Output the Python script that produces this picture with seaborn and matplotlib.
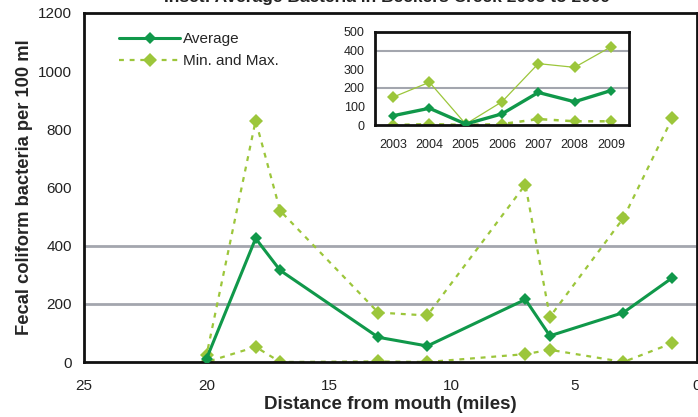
import matplotlib
matplotlib.use("Agg")
import matplotlib.pyplot as plt
from matplotlib.lines import Line2D
import seaborn as sns
import pandas as pd

# Main chart: sampling stations along the creek
distance_miles = [20, 18, 17, 13, 11, 7, 6, 3, 1]
avg_bacteria = [12, 425, 315, 85, 55, 215, 90, 170, 290]
max_bacteria = [25, 830, 520, 170, 160, 610, 155, 495, 840]
min_bacteria = [0, 52, 0, 2, 0, 27, 42, 0, 65]

# Inset: yearly averages
years = ["2003", "2004", "2005", "2006", "2007", "2008", "2009"]
year_avg = [50, 90, 5, 60, 175, 125, 185]
year_max = [150, 230, 5, 125, 330, 310, 420]
year_min = [0, 5, 0, 5, 32, 20, 20]

title_text = "Inset: Average Bacteria in Beckers Creek 2003 to 2009"
x_label = "Distance from mouth (miles)"
y_label = "Fecal coliform bacteria per 100 ml"

DARK = "#10984a"
LIGHT = "#9cc63b"
GRID = "#a3a6ae"

sns.set_style("white")
plt.rcParams["font.family"] = ["Liberation Sans", "DejaVu Sans"]

fig = plt.figure(figsize=(6.98, 4.17), dpi=100)
ax = fig.add_axes([84 / 698, 55 / 417, 613 / 698, 349 / 417])

main = pd.DataFrame({"dist": distance_miles, "avg": avg_bacteria,
                     "max": max_bacteria, "min": min_bacteria})

for lvl in (200, 400):
    ax.axhline(lvl, color=GRID, lw=2, zorder=0.5)

dash = (0, (2.2, 2.6))
for col in ("max", "min"):
    sns.lineplot(data=main, x="dist", y=col, ax=ax, color=LIGHT, lw=1.6,
                 linestyle=dash, marker="D", markersize=7, markeredgewidth=0,
                 zorder=2)
sns.lineplot(data=main, x="dist", y="avg", ax=ax, color=DARK, lw=2.2,
             marker="D", markersize=6.5, markeredgewidth=0, zorder=3)

ax.set_xlim(25, 0)
ax.set_ylim(0, 1200)
ax.set_xticks([25, 20, 15, 10, 5, 0])
ax.set_yticks(range(0, 1201, 200))
ax.tick_params(axis="both", labelsize=11, colors="#222222", direction="out",
               length=5, width=1)
ax.tick_params(axis="y", color=GRID)
ax.tick_params(axis="x", color="#666666", pad=7)
for s in ax.spines.values():
    s.set_color("#111111")
    s.set_linewidth(2)
ax.set_xlabel(x_label, fontsize=13.5, fontweight="bold", labelpad=2.5)
ax.set_ylabel(y_label, fontsize=13.2, fontweight="bold", labelpad=4)

handles = [
    Line2D([], [], color=DARK, lw=2.2, marker="D", markersize=6.5,
           markeredgewidth=0),
    Line2D([], [], color=LIGHT, lw=1.6, linestyle=dash, marker="D",
           markersize=7, markeredgewidth=0),
]
ax.legend(handles, ["Average", "Min. and Max."], loc="upper left",
          frameon=False, fontsize=11, handlelength=4.0, handletextpad=0.2,
          labelspacing=0.55, bbox_to_anchor=(0.035, 0.985))

# Inset with yearly values
ins = fig.add_axes([375 / 698, 292 / 417, 254 / 698, 93 / 417])
yr = pd.DataFrame({"pos": range(len(years)), "avg": year_avg,
                   "max": year_max, "min": year_min})
for lvl in (200, 400):
    ins.axhline(lvl, color=GRID, lw=1.5, zorder=0.5)
sns.lineplot(data=yr, x="pos", y="max", ax=ins, color=LIGHT, lw=0.9,
             marker="D", markersize=6, markeredgewidth=0, zorder=2)
sns.lineplot(data=yr, x="pos", y="min", ax=ins, color=LIGHT, lw=1.8,
             linestyle=(0, (2.0, 2.6)), marker="D", markersize=6,
             markeredgewidth=0, zorder=2)
sns.lineplot(data=yr, x="pos", y="avg", ax=ins, color=DARK, lw=2.4,
             marker="D", markersize=5.5, markeredgewidth=0, zorder=3)
ins.set_xlim(-0.5, len(years) - 0.5)
ins.set_ylim(0, 500)
ins.set_yticks(range(0, 501, 100))
ins.set_xticks(range(len(years)))
ins.set_xticklabels(years)
ins.set_xticks([i - 0.5 for i in range(len(years) + 1)], minor=True)
ins.tick_params(axis="x", which="major", length=0, pad=10)
ins.tick_params(axis="x", which="minor", length=4, width=1, color="#444444",
                direction="out")
ins.tick_params(axis="y", length=4, width=1, color="#777777", direction="out")
ins.tick_params(labelsize=9, colors="#222222")
ins.tick_params(axis="y", color="#777777")
ins.set_xlabel("")
ins.set_ylabel("")
for s in ins.spines.values():
    s.set_color("#111111")
    s.set_linewidth(2)

fig.text(0.555, 1 - 2 / 417, title_text, ha="center", va="baseline",
         fontsize=12.5, fontweight="bold", color="#222222")

fig.savefig("out.png", dpi=100)
